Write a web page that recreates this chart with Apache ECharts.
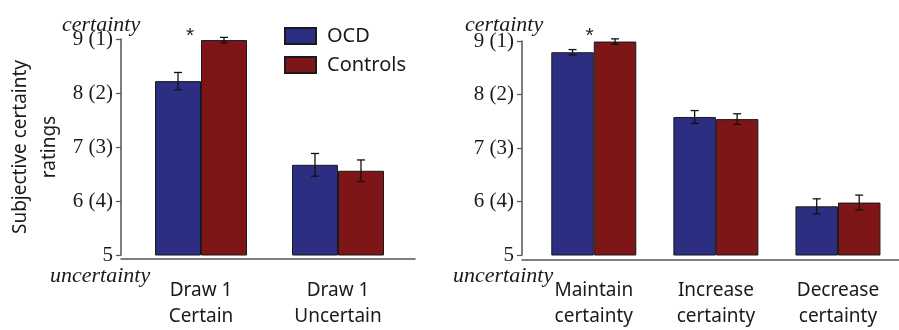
<!DOCTYPE html>
<html><head><meta charset="utf-8">
<script src="https://cdn.jsdelivr.net/npm/echarts@6/dist/echarts.min.js"></script>
<style>html,body{margin:0;padding:0;background:#fff}#c{width:899px;height:330px}</style>
</head><body><div id="c"></div>
<script>
const seriesNames = ['OCD', 'Controls'];
const categoriesLeft = ['Draw 1\nCertain', 'Draw 1\nUncertain'];
const ocdLeft = [8.22, 6.67];
const ocdLeftErr = [0.16, 0.21];
const ctrlLeft = [8.98, 6.56];
const ctrlLeftErr = [0.05, 0.20];
const categoriesRight = ['Maintain\ncertainty', 'Increase\ncertainty', 'Decrease\ncertainty'];
const ocdRight = [8.79, 7.58, 5.91];
const ocdRightErr = [0.05, 0.12, 0.14];
const ctrlRight = [8.99, 7.54, 5.98];
const ctrlRightErr = [0.05, 0.10, 0.14];
const yTickLabels = ['5', '6 (4)', '7 (3)', '8 (2)', '9 (1)'];
const starLeft = [0, 9];
const starRight = [0, 9];

const BLUE = '#2c2e82', RED = '#7e1517', AX = '#555';
const serif = 'Liberation Serif';
const sans = 'Noto Sans';

function errSeries(name, vals, errs, xi, yi, shift) {
  return {
    type: 'custom', name: name + ' err', xAxisIndex: xi, yAxisIndex: yi, z: 5,
    data: vals.map((v, i) => [i, v, errs[i]]),
    encode: {x: 0, y: 1},
    renderItem: function (params, api) {
      const i = api.value(0), v = api.value(1), e = api.value(2);
      const t = api.coord([i, v + e]), b = api.coord([i, v - e]);
      const x = t[0] + shift, cap = 4;
      const st = {stroke: '#111', lineWidth: 1.3};
      return {type: 'group', children: [
        {type: 'line', shape: {x1: x, y1: t[1], x2: x, y2: b[1]}, style: st},
        {type: 'line', shape: {x1: x - cap, y1: t[1], x2: x + cap, y2: t[1]}, style: st},
        {type: 'line', shape: {x1: x - cap, y1: b[1], x2: x + cap, y2: b[1]}, style: st}
      ]};
    }
  };
}
function barSeries(name, vals, color, xi, yi, bw, star, starOff) {
  const s = {
    type: 'bar', name: name, xAxisIndex: xi, yAxisIndex: yi, data: vals,
    barWidth: bw, barGap: '0%',
    itemStyle: {color: color, borderColor: '#1a1a1a', borderWidth: 1}
  };
  if (star) {
    s.markPoint = {symbol: 'circle', symbolSize: 1, silent: true,
      itemStyle: {color: 'rgba(0,0,0,0)'}, data: [{coord: star}],
      label: {show: true, position: 'inside', formatter: '*', color: '#222', fontSize: 21,
        fontFamily: 'Liberation Sans', offset: starOff}};
  }
  return s;
}
function yAx(gi, off) {
  return {
    type: 'value', gridIndex: gi, min: 5, max: 9, interval: 1, offset: off,
    axisLine: {show: true, lineStyle: {color: AX, width: 1.5}},
    axisTick: {show: true, length: 5, lineStyle: {color: AX, width: 1.2}},
    splitLine: {show: false},
    axisLabel: {margin: 8, color: '#1a1a1a', fontFamily: serif, fontSize: 21,
      formatter: v => yTickLabels[Math.round(v - 5)]}
  };
}
function xCat(gi, cats) {
  return {
    type: 'category', gridIndex: gi, data: cats,
    axisLine: {show: false}, axisTick: {show: false},
    axisLabel: {margin: 23, color: '#1a1a1a', fontFamily: sans, fontSize: 19, lineHeight: 26, interval: 0}
  };
}
function xFrame(gi) {
  return {type: 'value', gridIndex: gi, min: 0, max: 1,
    axisLine: {show: true, lineStyle: {color: AX, width: 1.5}},
    axisTick: {show: false}, axisLabel: {show: false}, splitLine: {show: false}};
}
function yHidden(gi) {
  return {type: 'value', gridIndex: gi, min: 0, max: 1, show: false};
}

const chart = echarts.init(document.getElementById('c'));
const yL = yAx(0, 11.5);
yL.name = 'Subjective certainty\nratings';
yL.nameLocation = 'middle';
yL.nameGap = 57;
yL.nameTextStyle = {fontFamily: sans, fontSize: 19, color: '#1a1a1a', lineHeight: 29};

chart.setOption({
  animation: false,
  grid: [
    {left: 132.5, top: 39, width: 274, height: 220},
    {left: 532.75, top: 41, width: 379.5, height: 219},
    {left: 121, top: 39, width: 294, height: 220},
    {left: 522, top: 41, width: 400, height: 219}
  ],
  xAxis: [xCat(0, categoriesLeft), xCat(1, categoriesRight), xFrame(2), xFrame(3)],
  yAxis: [yL, yAx(1, 10.75), yHidden(2), yHidden(3)],
  legend: {
    data: seriesNames, orient: 'vertical', left: 284, top: 26, padding: 0,
    itemWidth: 31, itemHeight: 16, itemGap: 9, icon: 'rect',
    textStyle: {fontFamily: sans, fontSize: 20, color: '#1a1a1a', lineHeight: 16, padding: [0, 0, 0, 6]}
  },
  graphic: [
    {type: 'text', left: 62, top: 14, style: {text: 'certainty', font: 'italic 22px "Liberation Serif"', fill: '#1a1a1a'}},
    {type: 'text', left: 50, top: 265, style: {text: 'uncertainty', font: 'italic 22px "Liberation Serif"', fill: '#1a1a1a'}},
    {type: 'text', left: 465, top: 14, style: {text: 'certainty', font: 'italic 22px "Liberation Serif"', fill: '#1a1a1a'}},
    {type: 'text', left: 453, top: 265, style: {text: 'uncertainty', font: 'italic 22px "Liberation Serif"', fill: '#1a1a1a'}}
  ],
  series: [
    barSeries('OCD', ocdLeft, BLUE, 0, 0, 46, starLeft, [12, -3]),
    barSeries('Controls', ctrlLeft, RED, 0, 0, 46),
    barSeries('OCD', ocdRight, BLUE, 1, 1, 42.5, starRight, [17, -5]),
    barSeries('Controls', ctrlRight, RED, 1, 1, 42.5),
    errSeries('OCD', ocdLeft, ocdLeftErr, 0, 0, -23),
    errSeries('Controls', ctrlLeft, ctrlLeftErr, 0, 0, 23),
    errSeries('OCD', ocdRight, ocdRightErr, 1, 1, -21.25),
    errSeries('Controls', ctrlRight, ctrlRightErr, 1, 1, 21.25)
  ]
});
</script></body></html>
